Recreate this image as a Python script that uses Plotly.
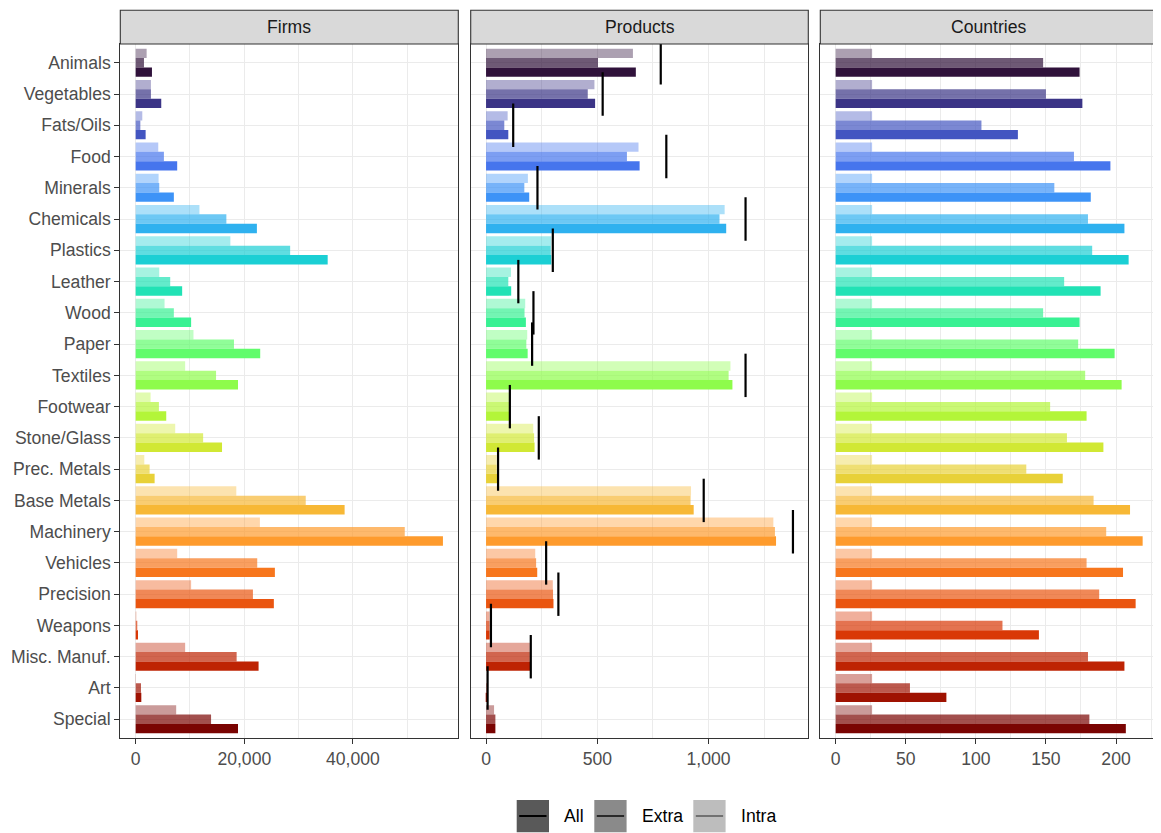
import plotly.graph_objects as go
from plotly.colors import sample_colorscale

# ---------------- data ----------------
categories = ["Animals", "Vegetables", "Fats/Oils", "Food", "Minerals", "Chemicals",
              "Plastics", "Leather", "Wood", "Paper", "Textiles", "Footwear",
              "Stone/Glass", "Prec. Metals", "Base Metals", "Machinery", "Vehicles",
              "Precision", "Weapons", "Misc. Manuf.", "Art", "Special"]

firms_all = [3000, 4710, 1835, 7645, 7030, 22320, 35350, 8560, 10210, 22930, 18840,
             5630, 15900, 3490, 38470, 56570, 25630, 25440, 430, 22630, 1040, 18840]
firms_extra = [1530, 2810, 860, 5200, 4340, 16700, 28440, 6360, 7030, 18100, 14800,
               4280, 12420, 2570, 31310, 49540, 22380, 21590, 300, 18590, 980, 13880]
firms_intra = [2020, 2810, 1220, 4160, 4220, 11740, 17430, 4340, 5320, 10640, 9110,
               2750, 7280, 1590, 18530, 22870, 7645, 10210, 120, 9110, 60, 7460]

products_all = [673, 490, 100, 690, 194, 1079, 293, 113, 179, 187, 1107,
                104, 218, 51, 933, 1303, 230, 303, 16, 200, 4, 42]
products_extra = [503, 457, 82, 633, 172, 1049, 291, 100, 173, 181, 1090,
                  104, 216, 48, 919, 1298, 225, 301, 16, 197, 3, 42]
products_intra = [660, 487, 97, 685, 188, 1072, 293, 112, 176, 185, 1098,
                  104, 212, 48, 921, 1291, 221, 300, 16, 197, 1, 36]
products_total = [785, 524, 122, 810, 231, 1166, 300, 145, 213, 207, 1166,
                  107, 237, 54, 978, 1379, 270, 325, 22, 201, 7, None]

countries_all = [174, 176, 130, 196, 182, 206, 209, 189, 174, 199, 204,
                 179, 191, 162, 210, 219, 205, 214, 145, 206, 79, 207]
countries_extra = [148, 150, 104, 170, 156, 180, 183, 163, 148, 173, 178,
                   153, 165, 136, 184, 193, 179, 188, 119, 180, 53, 181]
countries_intra = [26, 26, 26, 26, 26, 26, 26, 26, 26, 26, 26,
                   26, 26, 26, 26, 26, 26, 26, 26, 26, 26, 26]

panel_titles = ["Firms", "Products", "Countries"]
trade_types = ["Intra", "Extra", "All"]
type_alpha = {"All": 1.0, "Extra": 0.7, "Intra": 0.4}

# ---------------- styling ----------------
OFF = 8                      # default page (body) margin of the html page
PAGE_W, PAGE_H = 1161, 833
W, H = PAGE_W - OFF, PAGE_H - OFF
MR, MB = 3, 95
ML, MT = 120 - OFF, 10 - OFF
FONT = "Liberation Sans, Arial, sans-serif"
FS = 17.6
GRID = "#EBEBEB"
DARK = "#333333"


def fx(px):
    return (px - OFF - ML) / (W - ML - MR)


def fy(py):
    return (H - MB - (py - OFF)) / (H - MT - MB)


n = len(categories)
base_cols = sample_colorscale("Turbo", [i / (n - 1) for i in range(n)], colortype="tuple")


def rgba(c, a):
    r, g, b = c
    if max(r, g, b) <= 1.0:
        r, g, b = r * 255, g * 255, b * 255
    return f"rgba({int(round(r))},{int(round(g))},{int(round(b))},{a})"


panel_data = [
    {"Intra": firms_intra, "Extra": firms_extra, "All": firms_all},
    {"Intra": products_intra, "Extra": products_extra, "All": products_all},
    {"Intra": countries_intra, "Extra": countries_extra, "All": countries_all},
]

fig = go.Figure()

for p, data in enumerate(panel_data):
    xa = "x" if p == 0 else f"x{p + 1}"
    ya = "y" if p == 0 else f"y{p + 1}"
    for t in trade_types:
        fig.add_trace(go.Bar(
            x=data[t], y=categories, orientation="h",
            marker=dict(color=[rgba(c, type_alpha[t]) for c in base_cols], line=dict(width=0)),
            name=t, showlegend=False, xaxis=xa, yaxis=ya,
        ))

# product totals: black vertical marks
fig.add_trace(go.Scatter(
    x=products_total, y=categories, mode="markers", xaxis="x2", yaxis="y2",
    marker=dict(symbol="line-ns", size=31, color="black", line=dict(color="black", width=2.2)),
    showlegend=False, hoverinfo="x+y",
))

# ---------------- axes ----------------
panel_px = [(120.3, 458.3), (470.7, 808.3), (820.3, 1158.0)]
panel_top, panel_bottom = 44.0, 737.7
ydom = [0, fy(panel_top)]

maxes = [max(firms_all + firms_extra + firms_intra),
         max([v for v in products_total if v is not None] + products_all),
         max(countries_all + countries_extra + countries_intra)]
ticks = [([0, 20000, 40000], 10000), ([0, 500, 1000], 250), ([0, 50, 100, 150, 200], 25)]

layout_axes = {}
for p in range(3):
    m = maxes[p]
    tv, minor_d = ticks[p]
    xkey = "xaxis" if p == 0 else f"xaxis{p + 1}"
    ykey = "yaxis" if p == 0 else f"yaxis{p + 1}"
    layout_axes[xkey] = dict(
        domain=[max(0, fx(panel_px[p][0])), min(1, fx(panel_px[p][1]))],
        anchor="y" if p == 0 else f"y{p + 1}",
        range=[-0.05 * m, 1.05 * m],
        tickvals=tv, tickformat=",", ticks="outside", ticklen=5, tickwidth=1.1, tickcolor=DARK,
        tickfont=dict(family=FONT, size=FS, color="#4D4D4D"),
        showgrid=True, gridcolor=GRID, gridwidth=1.3,
        minor=dict(dtick=minor_d, tick0=0, showgrid=True, gridcolor=GRID, gridwidth=0.7, ticks=""),
        zeroline=False, showline=True, mirror=True, linecolor=DARK, linewidth=1.1,
        fixedrange=True,
    )
    layout_axes[ykey] = dict(
        domain=ydom,
        anchor="x" if p == 0 else f"x{p + 1}",
        type="category", categoryorder="array", categoryarray=categories,
        range=[n - 1 + 0.6, -0.6],
        showticklabels=(p == 0),
        ticks="outside" if p == 0 else "", ticklen=5, tickwidth=1.1, tickcolor=DARK,
        tickfont=dict(family=FONT, size=FS, color="#4D4D4D"),
        showgrid=True, gridcolor=GRID, gridwidth=1.3,
        zeroline=False, showline=True, mirror=True, linecolor=DARK, linewidth=1.1,
        fixedrange=True,
    )
    if p > 0:
        layout_axes[ykey]["matches"] = "y"

shapes = []
annotations = []
# strips
for p in range(3):
    x0, x1 = fx(panel_px[p][0]), min(1, fx(panel_px[p][1]))
    shapes.append(dict(type="rect", xref="paper", yref="paper", x0=x0, x1=x1,
                       y0=fy(panel_top), y1=fy(10.3), fillcolor="#D9D9D9",
                       line=dict(color=DARK, width=1.1), layer="above"))
    annotations.append(dict(text=panel_titles[p], xref="paper", yref="paper",
                            x=(x0 + x1) / 2, y=fy(27.3), showarrow=False,
                            xanchor="center", yanchor="middle",
                            font=dict(family=FONT, size=FS, color="#1A1A1A")))

# manual legend (ggplot-style keys)
legend_items = [("All", 516.7, 562.0), ("Extra", 594.3, 640.0), ("Intra", 693.3, 739.3)]
key_top, key_size, key_mid = 800.0, 32.3, 816.0
for label, bx, tx in legend_items:
    a = type_alpha[label]
    shapes.append(dict(type="rect", xref="paper", yref="paper",
                       x0=fx(bx), x1=fx(bx + key_size), y0=fy(key_top), y1=fy(key_top + key_size),
                       fillcolor=f"rgba(89,89,89,{a})", line=dict(width=0)))
    shapes.append(dict(type="line", xref="paper", yref="paper",
                       x0=fx(bx + 2.5), x1=fx(bx + key_size - 2.5), y0=fy(key_mid), y1=fy(key_mid),
                       line=dict(color=f"rgba(0,0,0,{a})", width=2)))
    annotations.append(dict(text=label, xref="paper", yref="paper", x=fx(tx), y=fy(key_mid),
                            showarrow=False, xanchor="left", yanchor="middle",
                            font=dict(family=FONT, size=FS, color="#000000")))

fig.update_layout(
    width=W, height=H,
    margin=dict(l=ML, r=MR, t=MT, b=MB, pad=0),
    paper_bgcolor="white", plot_bgcolor="white",
    barmode="group", bargap=0.1, bargroupgap=0,
    showlegend=False,
    font=dict(family=FONT, size=FS, color="#4D4D4D"),
    shapes=shapes, annotations=annotations,
    **layout_axes,
)

fig.write_html("out.html")
